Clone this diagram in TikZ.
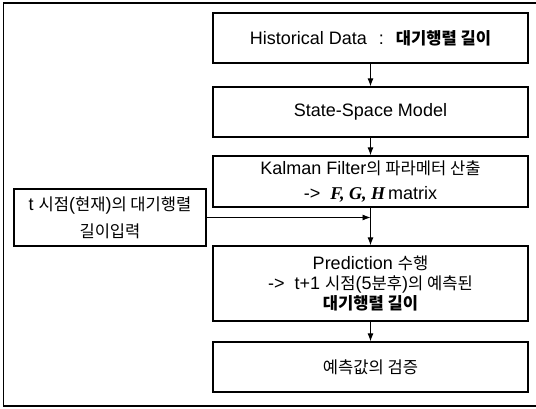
\documentclass[tikz,border=0pt]{standalone}
\usepackage{fontspec}
\setmainfont{Liberation Sans}
\newfontfamily\kr{Noto Sans CJK KR}[Scale=0.92]
\newfontfamily\serifbi{Liberation Serif}
\newcommand{\hk}[1]{{\kr #1}}
\usetikzlibrary{arrows.meta}
\begin{document}
\begin{tikzpicture}[x=1pt,y=-1pt,
  box/.style={draw,line width=1.3pt,minimum width=315pt,inner sep=0pt,align=center,
    font=\fontsize{18}{24}\selectfont},
  conn/.style={line width=0.9pt,-{Latex[length=8pt,width=6pt]}}]
\useasboundingbox (0,0) rectangle (536,409);
\draw[line width=1.1pt] (536,3) -- (3.5,3) -- (3.5,406) -- (536,406);
\node[box,minimum height=50pt] (b1) at (370.5,38) {Historical Data\hspace{12pt}:\hspace{12pt}\hk{\bfseries 대기행렬 길이}};
\node[box,minimum height=50pt] (b2) at (370.5,112) {State-Space Model};
\node[box,minimum height=51pt,font=\fontsize{18}{25}\selectfont] (b3) at (370.5,181.5) {Kalman Filter\hk{의 파라메터 산출}\\->\ \ {\serifbi\bfseries\itshape F,\ G,\ H}\,matrix};
\node[box,minimum height=75pt,font=\fontsize{18}{20}\selectfont] (b4) at (370.5,283.5) {Prediction \hk{수행}\\->\ \ t+1 \hk{시점}(5\hk{분후})\hk{의 예측된}\\\hk{\bfseries 대기행렬 길이}};
\node[box,minimum height=50pt] (b5) at (370.5,367) {\hk{예측값의 검증}};
\node[box,minimum width=192pt,minimum height=57pt,font=\fontsize{18}{27}\selectfont] (lb) at (110,217.5) {t \hk{시점}(\hk{현재})\hk{의 대기행렬}\\\hk{길이입력}};
\coordinate (j) at (b3.south |- lb.east);
\draw[conn] (b1) -- (b2);
\draw[conn] (b2) -- (b3);
\draw[conn] (b3) -- (b4);
\draw[conn] (lb.east) -- (j);
\draw[conn] (b4) -- (b5);
\end{tikzpicture}
\end{document}
